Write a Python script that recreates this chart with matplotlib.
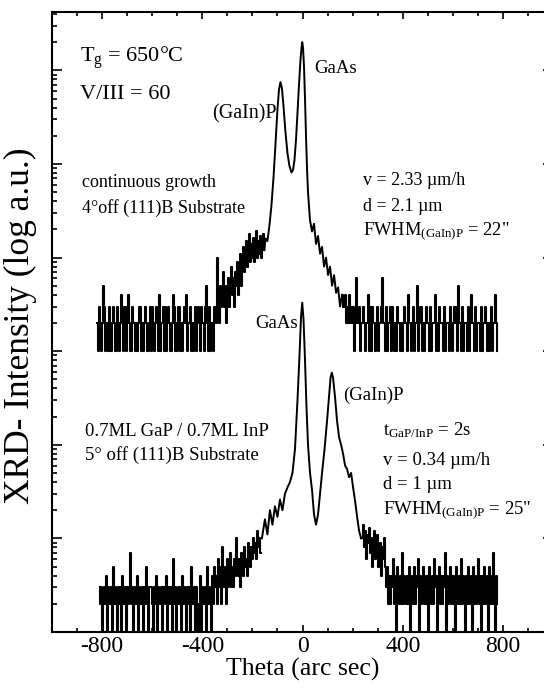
import numpy as np
import matplotlib
matplotlib.use("Agg")
import matplotlib.pyplot as plt
from matplotlib.ticker import MultipleLocator, LogLocator, NullFormatter

plt.rcParams['font.family'] = ['Liberation Serif', 'DejaVu Serif']
plt.rcParams['mathtext.fontset'] = 'custom'
plt.rcParams['mathtext.rm'] = 'Liberation Serif'
plt.rcParams['mathtext.it'] = 'Liberation Serif:italic'
plt.rcParams['axes.unicode_minus'] = False

# ---- upper scan: continuous growth ----
NOISE_STEP = 4
upper_left_start = -820
upper_left_counts = [2, 1, 3, 2, 1, 2, 5, 3, 1, 2, 2, 1, 3, 1, 1, 2, 3, 2, 1, 1,
                     3, 2, 1, 2, 4, 2, 1, 3, 3, 1, 2, 4, 2, 1, 1, 3, 2, 2, 1, 2,
                     1, 2, 3, 3, 1, 2, 1, 2, 3, 2, 1, 1, 2, 3, 1, 3, 2, 1, 2, 3,
                     2, 1, 4, 1, 2, 2, 3, 1, 3, 1, 2, 3, 2, 1, 1, 2, 4, 3, 1, 2,
                     1, 3, 3, 1, 2, 1, 2, 3, 2, 4, 1, 2, 2, 3, 1, 2, 1, 2, 3, 1,
                     2, 3, 2, 1, 3, 2, 2, 1, 3, 5, 2, 1, 3, 1, 2, 2, 1, 3, 3, 2]
upper_rise_start = -340
upper_rise_vals = [1000, 300, 200, 500, 300, 400, 700, 300, 500, 200,
                   400, 600, 300, 500, 800, 400, 600, 300, 700, 500,
                   900, 400, 600, 1100, 500, 800, 1300, 700, 1000, 1500,
                   800, 1200, 1800, 900, 1400, 1000, 1600, 900, 1300, 1900,
                   1000, 1500, 1100, 1700, 1000, 1400, 1800, 1200]
upper_peak_theta = [-152, -148, -140, -132, -124, -116, -108, -100, -94, -88, -82,
                    -76, -68, -60, -52, -44, -38, -32, -26, -20, -14, -8, -4, -1,
                    2, 6, 10, 14, 18, 22, 26, 30, 38, 46, 54, 62, 70, 78, 86,
                    94, 102, 110, 118, 126, 134, 142, 150, 158]
upper_peak_vals = [1200, 1600, 1500, 2200, 3600, 7000, 16000, 38000, 62000, 75000,
                   64000, 42000, 22000, 13000, 9500, 8100, 8600, 11000, 18000,
                   35000, 70000, 130000, 175000, 200000, 175000, 110000, 50000,
                   20000, 9000, 5000, 3500, 2500, 1900, 2300, 1400, 1700, 1100,
                   1300, 800, 1000, 650, 800, 500, 650, 420, 480, 300, 400]
upper_right_start = 158
upper_right_counts = [4, 3, 3, 4, 2, 3, 2, 4, 2, 3, 2, 3, 1, 2, 6, 2, 2, 3, 1, 2,
                      2, 3, 2, 1, 2, 2, 4, 1, 3, 1, 3, 2, 2, 1, 2, 3, 1, 2, 2, 3,
                      6, 2, 2, 1, 3, 1, 2, 2, 3, 1, 3, 2, 1, 2, 1, 3, 2, 2, 1, 2,
                      1, 2, 3, 2, 2, 1, 4, 2, 2, 1, 2, 3, 1, 2, 2, 5, 1, 2, 3, 3,
                      1, 2, 1, 2, 3, 2, 2, 1, 3, 1, 2, 2, 2, 4, 1, 2, 1, 3, 2, 2,
                      2, 1, 3, 1, 2, 2, 2, 1, 3, 2, 1, 2, 3, 2, 3, 1, 5, 2, 2, 1,
                      3, 1, 2, 2, 2, 1, 3, 1, 2, 4, 2, 2, 1, 3, 1, 2, 2, 2, 1, 3,
                      1, 2, 2, 3, 2, 1, 2, 1, 2, 3, 1, 2, 2, 4, 2, 1]
upper_count_unit = 100

# ---- lower scan: 0.7ML GaP / 0.7ML InP ----
lower_left_start = -810
lower_left_counts = [3, 2, 3, 1, 2, 3, 2, 4, 1, 3, 2, 2, 3, 1, 5, 2, 3, 2, 1, 3,
                     2, 3, 1, 4, 2, 2, 3, 1, 3, 2, 3, 7, 2, 3, 1, 2, 3, 2, 4, 1,
                     3, 2, 2, 3, 1, 3, 2, 5, 2, 1, 3, 3, 3, 2, 1, 3, 2, 4, 1, 3,
                     2, 2, 3, 1, 3, 3, 2, 4, 1, 3, 2, 3, 2, 1, 6, 2, 3, 1, 2, 3,
                     2, 3, 1, 4, 2, 3, 2, 1, 3, 2, 3, 1, 5, 2, 2, 3, 1, 3, 2, 1,
                     2, 4, 1, 3, 2, 2, 3, 1, 5, 2, 3, 2, 1,
                     4, 2, 5, 3, 4, 2, 6, 3, 5, 2, 8, 4, 3, 5, 2, 6, 3, 4, 7, 3,
                     5, 3, 6, 4, 10, 5, 4, 6, 3, 7, 5, 4, 8, 5, 6, 4, 9, 6, 5, 8,
                     6, 10, 7, 9, 6, 12, 8, 10, 7]
lower_peak_theta = [-162, -150, -140, -130, -120, -110, -100, -90, -80, -70,
                    -60, -50, -40, -30, -20, -12, -6, -1, 4, 10, 16, 22, 30,
                    38, 46, 54, 62, 70, 78, 88, 98, 106, 112, 117, 122, 130,
                    138, 146, 154, 162, 170, 178, 186, 194, 202, 210, 218, 226,
                    234]
lower_peak_vals = [1.0, 1.6, 1.1, 2.0, 1.4, 2.2, 1.7, 2.6, 2.0, 3.0,
                   3.5, 4.0, 5.0, 9.0, 30, 90, 230, 330, 220, 80, 25, 10, 5,
                   3.3, 1.8, 1.4, 1.8, 3.0, 5.0, 9.0, 18, 33, 52, 59, 52, 32,
                   18, 12, 10, 8, 6, 5.5, 4.5, 5, 3.5, 2.5, 1.7, 1.2, 1.0]
lower_right_start = 234
lower_right_counts = [10, 10, 14, 8, 12, 6, 11, 9, 13, 7, 10, 5, 9, 12, 6, 8, 11, 5,
                      7, 9, 4, 8, 6, 10, 5,
                      3, 5, 2, 4, 2, 4, 3, 6, 2, 4, 1, 5, 3, 2, 4, 2, 7, 2, 4, 3,
                      2, 4, 2, 5, 1, 3, 4, 2, 5, 2, 4, 3, 6, 1, 4, 2, 3, 5, 2, 4,
                      2, 4, 1, 5, 3, 2, 4, 2, 6, 3, 4, 1, 3, 5, 2, 4, 2, 4, 3, 7,
                      1, 4, 2, 3, 5, 2, 4, 2, 4, 1, 5, 3, 2, 4, 2, 6, 2, 4, 3, 1,
                      4, 2, 5, 2, 3, 4, 1, 5, 2, 4, 2, 3, 6, 2, 4, 1, 4, 2, 5, 2,
                      3, 4, 1, 5, 2, 4, 2, 7, 3, 1, 4, 2]
lower_count_unit = 0.1


def grid(start, values, step=NOISE_STEP):
    return start + step * np.arange(len(values))


up_left_x = np.concatenate([grid(upper_left_start, upper_left_counts),
                            grid(upper_rise_start, upper_rise_vals)])
up_left_y = np.concatenate([np.array(upper_left_counts) * upper_count_unit,
                            upper_rise_vals])
up_right_x = grid(upper_right_start, upper_right_counts)
up_right_y = np.array(upper_right_counts) * upper_count_unit

lo_left_x = grid(lower_left_start, lower_left_counts)
lo_left_y = np.array(lower_left_counts) * lower_count_unit
lo_right_x = grid(lower_right_start, lower_right_counts)
lo_right_y = np.array(lower_right_counts) * lower_count_unit

W, H = 544, 699
fig = plt.figure(figsize=(W / 100, H / 100), dpi=100)
ax = fig.add_axes([52 / W, 1 - 632 / H, 501 / W, 620 / H])

# noisy tails drawn as steps (counting statistics), peaks as plain lines
for x, y in [(up_left_x, up_left_y), (up_right_x, up_right_y),
             (lo_left_x, lo_left_y), (lo_right_x, lo_right_y)]:
    ax.plot(x, y, color='black', lw=1.5, drawstyle='steps-mid')
ax.plot(upper_peak_theta, upper_peak_vals, color='black', lw=1.4)
ax.plot(lower_peak_theta, lower_peak_vals, color='black', lw=1.4)

ax.set_xlim(-1000, 1000)
ax.set_yscale('log')
ax.set_ylim(0.1, 4.2e5)

ax.xaxis.set_major_locator(MultipleLocator(400))
ax.xaxis.set_minor_locator(MultipleLocator(100))
ax.yaxis.set_major_locator(LogLocator(base=10, numticks=20))
ax.yaxis.set_minor_locator(LogLocator(base=10, subs=np.arange(2, 10), numticks=20))
ax.yaxis.set_major_formatter(NullFormatter())
ax.yaxis.set_minor_formatter(NullFormatter())

ax.tick_params(which='both', direction='in', top=True, right=True, width=1.2)
ax.tick_params(axis='x', which='major', length=5, labelsize=17, pad=3)
ax.tick_params(axis='x', which='minor', length=3)
ax.tick_params(axis='y', which='major', length=7)
ax.tick_params(axis='y', which='minor', length=3.5)
for s in ax.spines.values():
    s.set_linewidth(1.5)


def put(px, py, s, size, ha='left'):
    fig.text(px / W, 1 - py / H, s, fontsize=size, ha=ha, va='baseline')


put(80, 62, r'T$_\mathrm{g}$ = 650°C', 16)
put(80, 99, 'V/III = 60', 16)
put(314, 73, 'GaAs', 13.5)
put(277, 118, '(GaIn)P', 14.5, ha='right')
put(82, 187, 'continuous growth', 13)
put(82, 213, '4°off (111)B Substrate', 13)
put(363, 185, 'v = 2.33 µm/h', 13)
put(363, 211, 'd = 2.1 µm', 13)
put(363, 235, r'FWHM$_\mathrm{(GaIn)P}$ = 22"', 13.3)

put(255, 328, 'GaAs', 13.5)
put(343, 400, '(GaIn)P', 13.5)
put(85, 436, '0.7ML GaP / 0.7ML InP', 13.5)
put(85, 460, '5° off (111)B Substrate', 13.5)
put(383, 435, r't$_\mathrm{GaP/InP}$ = 2s', 13.5)
put(383, 465, 'v = 0.34 µm/h', 13.5)
put(383, 489, 'd = 1 µm', 13.5)
put(383, 514, r'FWHM$_\mathrm{(GaIn)P}$ = 25"', 13.5)

fig.text(303 / W, 1 - 676 / H, 'Theta (arc sec)', fontsize=18.5, ha='center', va='baseline')
fig.text(20 / W, 1 - 326 / H, 'XRD- Intensity (log a.u.)', fontsize=25.5,
         rotation=90, ha='center', va='center')

fig.savefig('out.png', dpi=100)
